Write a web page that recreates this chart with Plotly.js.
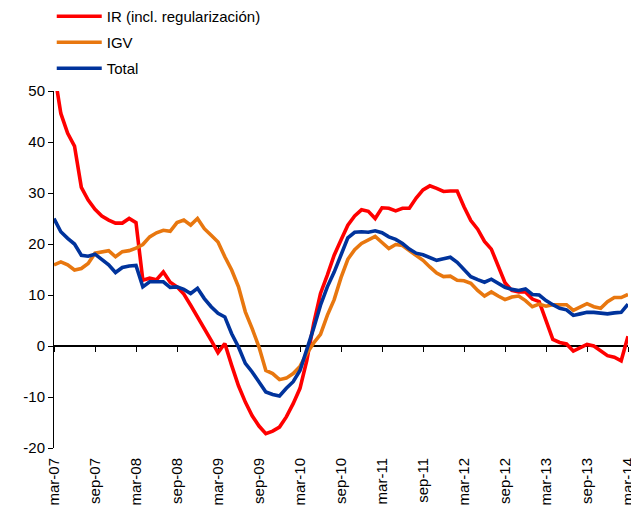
<!DOCTYPE html>
<html>
<head>
<meta charset="utf-8">
<script src="https://cdn.plot.ly/plotly-3.0.1.min.js"></script>
<style>html,body{margin:0;padding:0;background:#fff;}#chart{width:631px;height:514px;}</style>
</head>
<body>
<div id="chart"></div>
<script>
const months = [
'mar-07','abr-07','may-07','jun-07','jul-07','ago-07','sep-07','oct-07','nov-07','dic-07','ene-08','feb-08',
'mar-08','abr-08','may-08','jun-08','jul-08','ago-08','sep-08','oct-08','nov-08','dic-08','ene-09','feb-09',
'mar-09','abr-09','may-09','jun-09','jul-09','ago-09','sep-09','oct-09','nov-09','dic-09','ene-10','feb-10',
'mar-10','abr-10','may-10','jun-10','jul-10','ago-10','sep-10','oct-10','nov-10','dic-10','ene-11','feb-11',
'mar-11','abr-11','may-11','jun-11','jul-11','ago-11','sep-11','oct-11','nov-11','dic-11','ene-12','feb-12',
'mar-12','abr-12','may-12','jun-12','jul-12','ago-12','sep-12','oct-12','nov-12','dic-12','ene-13','feb-13',
'mar-13','abr-13','may-13','jun-13','jul-13','ago-13','sep-13','oct-13','nov-13','dic-13','ene-14','feb-14',
'mar-14'];

const irValues = [
54.0,45.6,41.7,39.2,31.1,28.6,26.8,25.5,24.7,24.1,24.1,25.0,
24.2,12.9,13.3,13.0,14.5,12.5,11.6,10.2,8.0,5.7,3.7,1.1,
-1.3,0.5,-3.8,-7.8,-11.0,-13.7,-15.7,-17.2,-16.7,-15.9,-13.9,-11.3,
-8.3,-2.8,4.4,10.3,13.9,17.8,20.8,23.7,25.5,26.7,26.4,25.0,
27.1,27.0,26.5,27.0,27.0,29.0,30.6,31.4,30.9,30.3,30.4,30.4,
27.3,24.6,22.9,20.5,19.0,15.7,12.4,10.9,10.6,10.6,9.2,8.7,
4.8,1.3,0.7,0.4,-1.0,-0.4,0.3,0.0,-0.9,-1.9,-2.2,-2.9,
1.9];

const igvValues = [
15.9,16.5,15.9,14.9,15.2,16.2,18.2,18.5,18.7,17.5,18.5,18.7,
19.2,19.9,21.4,22.2,22.7,22.5,24.2,24.7,23.7,25.0,23.0,21.7,
20.4,17.5,14.9,11.6,6.7,3.4,-0.2,-4.8,-5.4,-6.6,-6.3,-5.4,
-4.0,-1.5,0.6,2.3,6.0,9.1,13.4,17.0,18.9,20.1,20.9,21.5,
20.3,19.1,19.9,19.7,18.7,17.7,16.8,15.5,14.3,13.6,13.7,12.9,
12.8,12.3,10.9,9.8,10.6,9.8,9.1,9.6,9.8,8.9,7.7,8.2,
7.8,8.1,8.1,8.1,7.0,7.7,8.3,7.7,7.4,8.7,9.5,9.5,
10.1];

const totalValues = [
25.0,22.4,21.1,20.0,17.8,17.6,18.0,16.9,15.9,14.4,15.4,15.7,
15.8,11.6,12.6,12.6,12.6,11.5,11.6,11.1,10.3,11.3,9.3,7.7,
6.4,5.7,2.4,-0.2,-3.4,-5.1,-7.2,-9.0,-9.5,-9.8,-8.3,-7.0,
-4.8,-0.8,3.5,8.0,11.6,14.5,18.0,21.2,22.3,22.4,22.3,22.6,
22.2,21.4,20.9,20.1,19.0,18.2,17.9,17.4,16.8,17.1,17.4,16.4,
15.0,13.6,13.0,12.5,13.1,12.3,11.5,11.1,10.9,11.2,10.1,10.0,
8.9,8.1,7.4,7.1,6.0,6.3,6.6,6.6,6.5,6.3,6.5,6.6,
8.2];

const tickLabels = ['mar-07','sep-07','mar-08','sep-08','mar-09','sep-09','mar-10','sep-10','mar-11','sep-11','mar-12','sep-12','mar-13','sep-13','mar-14'];
const yTicks = [-20,-10,0,10,20,30,40,50];
const yTickText = ['-20','-10','0','10','20','30','40','50'];

const FONT = 'Arial, "Liberation Sans", sans-serif';

const traces = [
  {x: months, y: irValues, name: 'IR (incl. regularización)', type: 'scatter', mode: 'lines',
   line: {color: '#FF0000', width: 3.6}, legendgroup: 'a'},
  {x: months, y: igvValues, name: 'IGV', type: 'scatter', mode: 'lines',
   line: {color: '#E8770F', width: 3.6}, legendgroup: 'b'},
  {x: months, y: totalValues, name: 'Total', type: 'scatter', mode: 'lines',
   line: {color: '#00339C', width: 3.6}, legendgroup: 'c'}
];

traces.push({x: months, y: totalValues, xaxis: 'x2', type: 'scatter', mode: 'lines',
  line: {width: 0, color: 'rgba(0,0,0,0)'}, showlegend: false, hoverinfo: 'skip'});

const layout = {
  width: 631, height: 514,
  paper_bgcolor: '#fff', plot_bgcolor: '#fff',
  margin: {l: 54, r: 3, t: 91, b: 66, autoexpand: false},
  font: {family: FONT, size: 15, color: '#000'},
  showlegend: true,
  legend: {
    xref: 'container', yref: 'container',
    x: 0.082, y: 1.0, xanchor: 'left', yanchor: 'top',
    font: {family: FONT, size: 15, color: '#000'},
    bgcolor: 'rgba(0,0,0,0)', borderwidth: 0,
    traceorder: 'grouped', tracegroupgap: 3.5,
    itemwidth: 45
  },
  xaxis: {
    type: 'category', range: [0, 84], automargin: false,
    tickmode: 'array', tickvals: tickLabels, ticktext: tickLabels,
    tickangle: -90, ticks: '', ticklabelstandoff: 6,
    showline: false, showgrid: false, zeroline: false,
    tickfont: {family: FONT, size: 15, color: '#000'}
  },
  xaxis2: {
    type: 'category', overlaying: 'x', matches: 'x', range: [0, 84],
    anchor: 'free', position: 2/7,
    tickmode: 'array', tickvals: tickLabels,
    showticklabels: false, ticks: 'outside', ticklen: 5, tickwidth: 1, tickcolor: '#000',
    showline: true, linecolor: '#000', linewidth: 2,
    showgrid: false, zeroline: false, layer: 'below traces'
  },
  yaxis: {
    range: [-20, 50], automargin: false,
    tickmode: 'array', tickvals: yTicks, ticktext: yTickText,
    ticks: 'outside', ticklen: 5, tickcolor: '#000', tickwidth: 1,
    showline: true, linecolor: '#000', linewidth: 1,
    showgrid: false, zeroline: false,
    tickfont: {family: FONT, size: 15, color: '#000'}
  }
};

Plotly.newPlot('chart', traces, layout, {displayModeBar: false, staticPlot: true});
</script>
</body>
</html>
